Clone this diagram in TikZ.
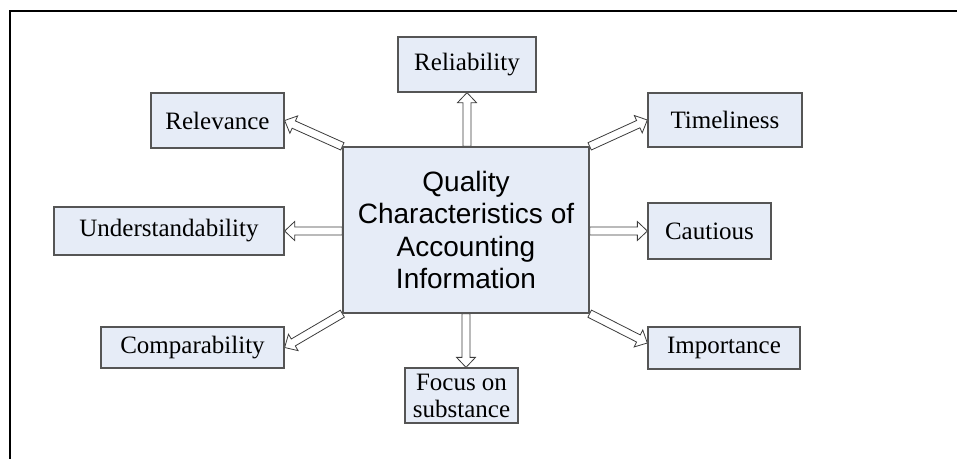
\documentclass[tikz,border=0pt]{standalone}
\usepackage{fontspec}
\setmainfont{Liberation Serif}
\newfontfamily\headfont{Liberation Sans}
\usetikzlibrary{calc,backgrounds}
\definecolor{boxfill}{RGB}{230,236,247}
\definecolor{boxline}{RGB}{85,85,85}
\definecolor{arrowline}{RGB}{60,60,60}
\begin{document}
\begin{tikzpicture}[x=1pt,y=-1pt,
  item/.style={draw=boxline, fill=boxfill, line width=1.3pt, inner sep=0pt,
    font=\fontsize{25}{27}\selectfont, align=center},
  hub/.style={item, font=\headfont\fontsize{28}{32.5}\selectfont},
  % hollow block arrow from the start point to the target point
  hollow/.style={draw=arrowline, fill=white, line width=0.8pt, line join=miter,
    to path={let \p1=(\tikztostart), \p2=(\tikztotarget),
      \n1={atan2(\y2-\y1,\x2-\x1)} in
      ($(\p1)+({\n1+90}:4pt)$)
      -- ($(\p2)+({\n1+180}:10pt)+({\n1+90}:4pt)$)
      -- ($(\p2)+({\n1+180}:10pt)+({\n1+90}:9.5pt)$)
      -- (\p2)
      -- ($(\p2)+({\n1+180}:10pt)+({\n1-90}:9.5pt)$)
      -- ($(\p2)+({\n1+180}:10pt)+({\n1-90}:4pt)$)
      -- ($(\p1)+({\n1-90}:4pt)$) -- cycle}}]
\useasboundingbox (0,0) rectangle (957,458);

% outer frame
\draw[line width=2pt] (10,470) -- (10,11) -- (975,11);

% central box
\node[hub, minimum width=246pt, minimum height=166pt] (c) at (466,230)
  {Quality\\Characteristics of\\Accounting\\Information};

% surrounding characteristics
\node[item, minimum width=138pt, minimum height=55pt] (reli) at (467,64.5) {Reliability};
\node[item, minimum width=133pt, minimum height=55pt] (rel) at (217.5,120.5) {Relevance};
\node[item, minimum width=230pt, minimum height=48pt] (und) at (169,231) {Understandability};
\node[item, minimum width=183pt, minimum height=41pt] (cmp) at (192.5,347.5) {Comparability};
\node[item, minimum width=113pt, minimum height=55pt] (foc) at (461.5,395.5) {Focus on\\substance};
\node[item, minimum width=154pt, minimum height=54pt] (tim) at (725,120) {Timeliness};
\node[item, minimum width=123pt, minimum height=56pt] (cau) at (709.5,231) {Cautious};
\node[item, minimum width=152pt, minimum height=42pt] (imp) at (724,348) {Importance};

% connectors
\begin{scope}[on background layer]
\draw[hollow] (c.north -| reli.south) to (reli.south);
\draw[hollow] (c.north west) to (rel.east);
\draw[hollow] (c.west |- und.east) to (und.east);
\draw[hollow] (c.south west) to (cmp.east);
\draw[hollow] (c.south) to (c.south |- foc.north);
\draw[hollow] (c.north east) to (tim.west);
\draw[hollow] (c.east |- cau.west) to (cau.west);
\draw[hollow] (c.south east) to ([yshift=5pt]imp.west);
\end{scope}
\end{tikzpicture}
\end{document}
